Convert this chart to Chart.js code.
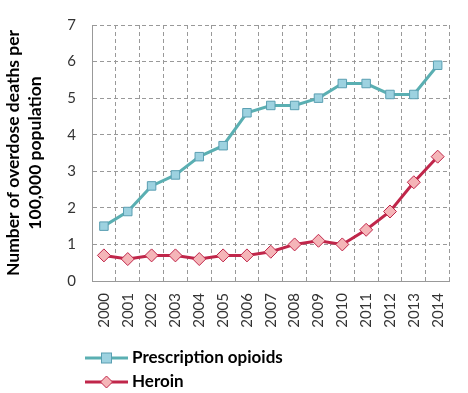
<!DOCTYPE html>
<html><head><meta charset="utf-8">
<script src="https://cdn.jsdelivr.net/npm/chart.js@4/dist/chart.umd.min.js"></script>
<style>html,body{margin:0;padding:0;background:#fff}#wrap{width:468px;height:393px;position:relative}</style>
</head><body><div id="wrap"><canvas id="c" width="468" height="393"></canvas></div>
<script>
const years = ["2000","2001","2002","2003","2004","2005","2006","2007","2008","2009","2010","2011","2012","2013","2014"];
const prescriptionOpioids = [1.5,1.9,2.6,2.9,3.4,3.7,4.6,4.8,4.8,5.0,5.4,5.4,5.1,5.1,5.9];
const heroin = [0.7,0.6,0.7,0.7,0.6,0.7,0.7,0.8,1.0,1.1,1.0,1.4,1.9,2.7,3.4];
const seriesNames = ["Prescription opioids","Heroin"];
const yTitle = ["Number of overdose deaths per","100,000 population"];

const FONT = "Lato, 'Liberation Sans', sans-serif";
const tealLine = '#5AAFB2', tealFill = '#9DD2E0', tealBorder = '#5A9FB2';
const redLine = '#C0264A', redFill = '#F5B5B8', redBorder = '#C0264A';

const legendPlugin = {
  id: 'customLegend',
  afterDraw(chart) {
    const ctx = chart.ctx;
    const items = chart.data.datasets;
    const ys = [358, 382];
    items.forEach((ds, i) => {
      const y = ys[i];
      ctx.save();
      ctx.strokeStyle = ds.borderColor;
      ctx.lineWidth = 3;
      ctx.beginPath(); ctx.moveTo(85, y); ctx.lineTo(128, y); ctx.stroke();
      ctx.fillStyle = ds.pointBackgroundColor;
      ctx.strokeStyle = ds.pointBorderColor;
      ctx.lineWidth = 1;
      const cx = 106.5;
      if (ds.pointStyle === 'rect') {
        ctx.fillRect(cx-5, y-5, 10, 10); ctx.strokeRect(cx-5, y-5, 10, 10);
      } else {
        ctx.beginPath(); ctx.moveTo(cx, y-6); ctx.lineTo(cx+6, y); ctx.lineTo(cx, y+6); ctx.lineTo(cx-6, y); ctx.closePath(); ctx.fill(); ctx.stroke();
      }
      ctx.fillStyle = '#000';
      ctx.font = "bold 17px " + FONT;
      ctx.textBaseline = 'middle';
      ctx.fillText(ds.label, 132, y);
      ctx.restore();
    });
  }
};

new Chart(document.getElementById('c'), {
  type: 'line',
  data: {
    labels: years,
    datasets: [
      { label: seriesNames[0], data: prescriptionOpioids, borderColor: tealLine, borderWidth: 3,
        pointStyle: 'rect', pointRadius: 6, pointBackgroundColor: tealFill, pointBorderColor: tealBorder, pointBorderWidth: 1, tension: 0 },
      { label: seriesNames[1], data: heroin, borderColor: redLine, borderWidth: 3,
        pointStyle: 'rectRot', pointRadius: 6.5, pointBackgroundColor: redFill, pointBorderColor: redBorder, pointBorderWidth: 1, tension: 0 }
    ]
  },
  options: {
    responsive: false, animation: false, devicePixelRatio: 1,
    layout: { padding: { left: 0, right: 10, top: 14, bottom: 0 } },
    plugins: { legend: { display: false }, tooltip: { enabled: false } },
    scales: {
      x: {
        offset: true,
        afterFit(s) { s.height = 112; },
        grid: { offset: true, color: '#999999', lineWidth: 1, drawTicks: false },
        border: { display: true, color: '#999999', dash: [4,3] },
        ticks: { minRotation: 90, maxRotation: 90, color: '#333', padding: 12, font: { family: FONT, size: 15 } }
      },
      y: {
        min: 0, max: 7,
        afterFit(s) { s.width = 92; },
        grid: { color: '#999999', lineWidth: 1, drawTicks: false },
        border: { display: true, color: '#999999', dash: [4,3] },
        ticks: { stepSize: 1, color: '#333', padding: 16, font: { family: FONT, size: 15 } },
        title: { display: true, text: yTitle, color: '#000', font: { family: FONT, size: 17.5, weight: 'bold', lineHeight: 1.257 }, padding: { top: 2, bottom: 10 } }
      }
    }
  },
  plugins: [legendPlugin]
});
</script></body></html>
